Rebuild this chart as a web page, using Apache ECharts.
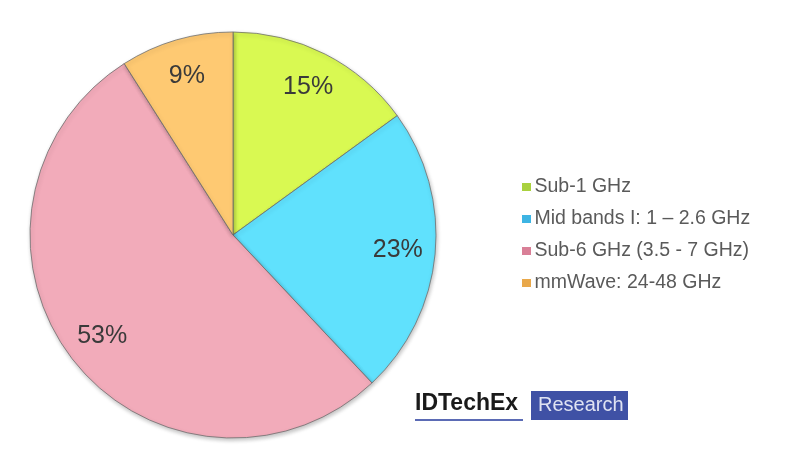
<!DOCTYPE html>
<html>
<head>
<meta charset="utf-8">
<script src="https://cdn.jsdelivr.net/npm/echarts@6/dist/echarts.min.js"></script>
<style>
  html, body { margin: 0; padding: 0; background: #fff; }
  #chart { width: 791px; height: 460px; }
</style>
</head>
<body>
<div id="chart"></div>
<script>
var bands = ["Sub-1 GHz", "Mid bands I: 1 \u2013 2.6 GHz", "Sub-6 GHz (3.5 - 7 GHz)", "mmWave: 24-48 GHz"];
var shares = [15, 23, 53, 9];
var sliceColors = ["#d9f952", "#60e1fd", "#f2abba", "#fec972"];
var legendColors = ["#a9d13e", "#3db4e3", "#d97f97", "#e9a84a"];

var pieData = bands.map(function (name, i) {
  return { name: name, value: shares[i], itemStyle: { color: sliceColors[i] } };
});

var myChart = echarts.init(document.getElementById("chart"), null, { renderer: "canvas" });

var option = {
  animation: false,
  legend: {
    orient: "vertical",
    left: 516,
    top: 172,
    itemWidth: 10,
    itemHeight: 9,
    itemGap: 12,
    icon: "rect",
    textStyle: { fontFamily: "Liberation Sans", fontSize: 19.5, color: "#5a5a5a", padding: [0, 0, 0, -2] },
    data: bands.map(function (name, i) {
      return { name: name, itemStyle: { color: legendColors[i], borderColor: "#fff", borderWidth: 1 } };
    })
  },
  series: [
    {
      type: "pie",
      center: [233, 235],
      radius: [0, 203],
      startAngle: 90,
      clockwise: true,
      legendHoverLink: false,
      label: { show: false },
      labelLine: { show: false },
      itemStyle: {
        borderColor: "#6f6f6f",
        borderWidth: 0.8,
        shadowColor: "rgba(0,0,0,0.25)",
        shadowBlur: 4,
        shadowOffsetX: 1,
        shadowOffsetY: 2
      },
      data: pieData
    },
    {
      // transparent ring, only to push the percent labels outward
      type: "pie",
      center: [233, 235],
      radius: [122, 203],
      startAngle: 90,
      clockwise: true,
      silent: true,
      legendHoverLink: false,
      itemStyle: { color: "rgba(0,0,0,0)", borderWidth: 0 },
      label: {
        show: true,
        position: "inside",
        formatter: "{c}%",
        fontFamily: "Liberation Sans",
        fontSize: 25,
        color: "#3a3a3a"
      },
      labelLine: { show: false },
      data: bands.map(function (name, i) {
        return { name: name, value: shares[i] };
      })
    }
  ],
  graphic: [
    {
      type: "text",
      left: 415,
      top: 392,
      style: { text: "IDTechEx", font: "bold 23px 'Liberation Sans'", fill: "#1a1a1a" }
    },
    {
      type: "rect",
      shape: { x: 415, y: 419, width: 108, height: 2 },
      style: { fill: "#5b6bb5" }
    },
    {
      type: "rect",
      shape: { x: 531, y: 391, width: 97, height: 29 },
      style: { fill: "#3f51a5" }
    },
    {
      type: "text",
      left: 538,
      top: 395,
      style: { text: "Research", font: "20px 'Liberation Sans'", fill: "#dfe3f2" }
    }
  ]
};

myChart.setOption(option);
</script>
</body>
</html>
